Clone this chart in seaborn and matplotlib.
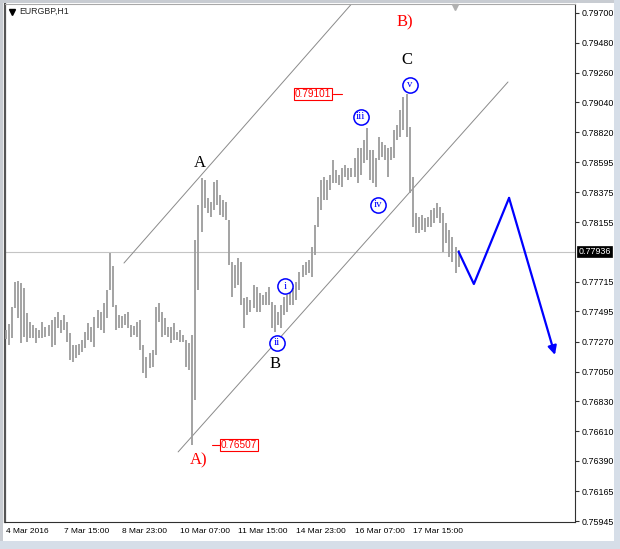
import matplotlib
matplotlib.use("Agg")
import matplotlib.pyplot as plt
import matplotlib.patches as mpatches
import seaborn as sns
import numpy as np
import pandas as pd

# ---------------- data ----------------
symbol = "EURGBP,H1"

highs = [
    0.77357, 0.77402, 0.77527, 0.77712, 0.77720, 0.77703, 0.77668, 0.77483, 0.77416, 0.77394,
    0.77372, 0.77357, 0.77416, 0.77379, 0.77394, 0.77431, 0.77453, 0.77490, 0.77431, 0.77468,
    0.77416, 0.77335, 0.77247, 0.77247, 0.77254, 0.77283, 0.77343, 0.77409, 0.77379, 0.77453,
    0.77505, 0.77490, 0.77557, 0.77653, 0.77926, 0.77830, 0.77542, 0.77468, 0.77461, 0.77476,
    0.77490, 0.77394, 0.77387, 0.77416, 0.77431, 0.77247, 0.77158, 0.77188, 0.77210, 0.77527,
    0.77557, 0.77490, 0.77446, 0.77379, 0.77379, 0.77409, 0.77343, 0.77357, 0.77320, 0.77283,
    0.77261, 0.77320, 0.78022, 0.78281, 0.78481, 0.78466, 0.78333, 0.78303, 0.78451, 0.78466,
    0.78355, 0.78318, 0.78303, 0.78170, 0.77860, 0.77838, 0.77889, 0.77860, 0.77594, 0.77602,
    0.77579, 0.77690, 0.77675, 0.77631, 0.77616, 0.77638, 0.77675, 0.77564, 0.77542, 0.77490,
    0.77542, 0.77602, 0.77616, 0.77638, 0.77668, 0.77712, 0.77786, 0.77838, 0.77860, 0.77875,
    0.77971, 0.78133, 0.78340, 0.78466, 0.78488, 0.78466, 0.78503, 0.78614, 0.78540, 0.78503,
    0.78554, 0.78577, 0.78554, 0.78554, 0.78628, 0.78702, 0.78702, 0.78761, 0.78850, 0.78688,
    0.78688, 0.78628, 0.78784, 0.78747, 0.78724, 0.78702, 0.78709, 0.78835, 0.78872, 0.78983,
    0.79079, 0.79101, 0.78857, 0.78488, 0.78222, 0.78192, 0.78207, 0.78185, 0.78192, 0.78244,
    0.78259, 0.78296, 0.78267, 0.78222, 0.78148, 0.78096, 0.78044, 0.77971, 0.77950,
]
lows = [
    0.77291, 0.77247, 0.77298, 0.77520, 0.77446, 0.77261, 0.77306, 0.77269, 0.77298, 0.77298,
    0.77261, 0.77298, 0.77298, 0.77306, 0.77313, 0.77232, 0.77247, 0.77372, 0.77335, 0.77357,
    0.77269, 0.77136, 0.77121, 0.77150, 0.77173, 0.77195, 0.77224, 0.77283, 0.77269, 0.77232,
    0.77372, 0.77357, 0.77335, 0.77446, 0.77653, 0.77527, 0.77357, 0.77372, 0.77372, 0.77394,
    0.77372, 0.77306, 0.77320, 0.77306, 0.77210, 0.77041, 0.77003, 0.77077, 0.77084, 0.77173,
    0.77416, 0.77306, 0.77320, 0.77306, 0.77261, 0.77283, 0.77283, 0.77269, 0.77269, 0.77084,
    0.77063, 0.76507, 0.76840, 0.77653, 0.78081, 0.78259, 0.78222, 0.78192, 0.78244, 0.78281,
    0.78207, 0.78192, 0.78170, 0.77838, 0.77602, 0.77668, 0.77690, 0.77542, 0.77372, 0.77468,
    0.77490, 0.77520, 0.77490, 0.77490, 0.77542, 0.77542, 0.77542, 0.77372, 0.77343, 0.77394,
    0.77372, 0.77468, 0.77490, 0.77542, 0.77542, 0.77579, 0.77653, 0.77749, 0.77764, 0.77779,
    0.77749, 0.77911, 0.78119, 0.78244, 0.78318, 0.78318, 0.78392, 0.78444, 0.78444, 0.78429,
    0.78414, 0.78488, 0.78466, 0.78488, 0.78488, 0.78444, 0.78503, 0.78591, 0.78614, 0.78466,
    0.78444, 0.78414, 0.78614, 0.78636, 0.78614, 0.78488, 0.78614, 0.78628, 0.78761, 0.78784,
    0.78835, 0.78784, 0.78370, 0.78119, 0.78074, 0.78074, 0.78096, 0.78081, 0.78119, 0.78119,
    0.78148, 0.78185, 0.78148, 0.77934, 0.78000, 0.77897, 0.77860, 0.77779, 0.77823,
]

# x axis is the bar index (as in the platform); a date label every 19 bars
time_tick_bars = [0, 19, 38, 57, 76, 95, 114, 133]
time_labels = ["4 Mar 2016", "7 Mar 15:00", "8 Mar 23:00", "10 Mar 07:00",
               "11 Mar 15:00", "14 Mar 23:00", "16 Mar 07:00", "17 Mar 15:00"]
price_ticks = [0.79700, 0.79480, 0.79260, 0.79040, 0.78820, 0.78595, 0.78375, 0.78155,
               0.77715, 0.77495, 0.77270, 0.77050, 0.76830, 0.76610, 0.76390, 0.76165, 0.75945]
last_price = 0.77936

# projected path (blue)
proj_bars = [148, 153, 164.5, 179.5]
proj_prices = [0.77936, 0.77697, 0.78333, 0.77173]

# channel lines
upper_bars = [38.65, 113.15]
upper_prices = [0.77852, 0.79770]
lower_bars = [56.35, 164.15]
lower_prices = [0.76456, 0.79190]

# wave labels
letter_labels = [("A", 63.5, 0.78591, "black"), ("B", 88.0, 0.77106, "black"),
                 ("C", 131.15, 0.79353, "black"), ("A)", 63.05, 0.76397, "red"),
                 ("B)", 130.5, 0.79633, "red")]
circle_labels = [("i", 91.25, 0.77682), ("ii", 88.75, 0.77263), ("iii", 116.0, 0.78934),
                 ("iv", 121.75, 0.78281), ("v", 132.1, 0.79168)]
price_tags = [("0.79101", 0.79101, 100.4, 106.85, 109.8),
              ("0.76507", 0.76507, 76.25, 67.3, 70.05)]

# ---------------- drawing ----------------
sns.set_style("white")
plt.rcParams["font.family"] = ["Liberation Sans", "DejaVu Sans"]

W, H = 620, 549
fig = plt.figure(figsize=(W / 100, H / 100), dpi=100)
fig.patch.set_facecolor("white")

# window frame strips
frame_col = "#d6dee8"
fig.add_artist(mpatches.Rectangle((0, 0), 3 / W, 1, transform=fig.transFigure, color="#c8ccd2", lw=0))
fig.add_artist(mpatches.Rectangle((0, 1 - 3 / H), 1, 3 / H, transform=fig.transFigure, color="#c8ccd2", lw=0))
fig.add_artist(mpatches.Rectangle((614 / W, 0), 6 / W, 1, transform=fig.transFigure, color=frame_col, lw=0))
fig.add_artist(mpatches.Rectangle((0, 0), 1, 8 / H, transform=fig.transFigure, color=frame_col, lw=0))

ax = fig.add_axes([5 / W, 27 / H, 570 / W, 518.5 / H])
ax.set_facecolor("white")
ax.set_xlim(-0.23, 186.05)
ax.set_ylim(0.75938, 0.79770)

bars = pd.DataFrame({"bar": np.arange(len(highs)), "high": highs, "low": lows})

# current price line
ax.axhline(last_price, color="#c4c4c4", lw=0.8, zorder=1)

# channel lines
ax.plot(upper_bars, upper_prices, color="#8a8a8a", lw=0.7, zorder=2)
ax.plot(lower_bars, lower_prices, color="#8a8a8a", lw=0.7, zorder=2)

# price bars
ax.vlines(bars["bar"], bars["low"], bars["high"], color="#9c9c9c", lw=1.3, zorder=3)

# projection
proj = pd.DataFrame({"bar": proj_bars[:3], "price": proj_prices[:3]})
sns.lineplot(data=proj, x="bar", y="price", sort=False, color="#0000ff", lw=1.6, ax=ax,
             zorder=6)
ax.annotate("", xy=(proj_bars[3], proj_prices[3]), xytext=(proj_bars[2], proj_prices[2]),
            arrowprops=dict(arrowstyle="-|>", color="#0000ff", lw=1.6, mutation_scale=13,
                            shrinkA=0, shrinkB=0), zorder=6)

# wave letters
for txt, bx, py, col in letter_labels:
    ax.text(bx, py, txt, color=col, fontsize=12, ha="center", va="center",
            family=["Liberation Serif", "DejaVu Serif"], zorder=7)

# circled sub-waves
for txt, bx, py in circle_labels:
    ax.scatter([bx], [py], s=120, facecolor="white", edgecolor="#0000ff", linewidths=1.1, zorder=8)
    ax.text(bx, py, txt, color="#0000ff", fontsize=7.8, ha="center", va="center",
            family=["Liberation Serif", "DejaVu Serif"], zorder=9)

# price tags
for txt, py, bx, l0, l1 in price_tags:
    ax.plot([l0, l1], [py, py], color="#ff0000", lw=0.8, zorder=7)
    ax.text(bx, py, txt, color="#ff0000", fontsize=7.2, ha="center", va="center", zorder=8,
            bbox=dict(boxstyle="square,pad=0.12", fc="white", ec="#ff0000", lw=0.8))

# symbol caption
ax.plot([0.0115], [0.984], marker="v", color="black", ms=4, transform=ax.transAxes, clip_on=False)
ax.text(0.0255, 0.984, symbol, transform=ax.transAxes, fontsize=6.3, va="center", ha="left")

# chart shift marker
ax.plot([(455 - 5) / 570], [0.993], marker="v", color="#b0b0b0", ms=5, transform=ax.transAxes,
        clip_on=False, zorder=10)

# axes, ticks
ax.yaxis.tick_right()
ax.set_yticks(price_ticks)
ax.set_yticklabels([f"{v:.5f}" for v in price_ticks])
ax.set_xticks(time_tick_bars)
ax.set_xticklabels(time_labels)
for lbl in ax.get_xticklabels():
    lbl.set_horizontalalignment("left")
ax.tick_params(axis="y", direction="out", length=3, width=0.8, color="#303030", pad=1.5,
               labelsize=6.4, labelcolor="black", left=False, right=True)
ax.tick_params(axis="x", direction="out", length=3, width=0.8, color="#303030", pad=1.5,
               labelsize=6.0, labelcolor="black")
ax.set_xlabel("")
ax.set_ylabel("")
for side in ["right", "bottom"]:
    ax.spines[side].set_color("#303030")
    ax.spines[side].set_linewidth(0.8)
ax.spines["left"].set_color("#555555")
ax.spines["left"].set_linewidth(1.6)
ax.spines["top"].set_color("#a8a8a8")
ax.spines["top"].set_linewidth(0.8)

# current price tag on the axis
ax.text(1.0065, last_price, f"{last_price:.5f}", transform=ax.get_yaxis_transform(),
        color="white", fontsize=6.4, ha="left", va="center", clip_on=False,
        bbox=dict(boxstyle="square,pad=0.15", fc="black", ec="black", lw=0.5))

fig.savefig("out.png", dpi=100, facecolor="white")
